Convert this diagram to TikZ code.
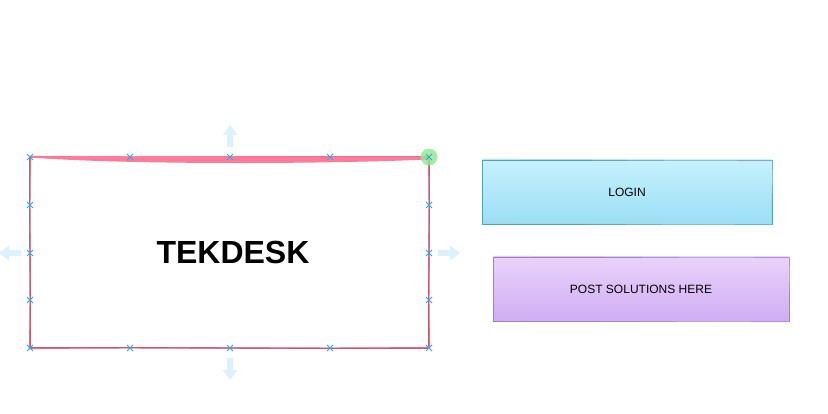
\documentclass[tikz,border=0pt]{standalone}
\usepackage{fontspec}
\setmainfont{Liberation Sans}

\definecolor{edgepink}{HTML}{C25A72}
\definecolor{bandpink}{HTML}{FF7B98}
\definecolor{handleblue}{HTML}{2FA9E6}
\definecolor{arrowblue}{HTML}{DDF1FB}
\definecolor{logintop}{HTML}{C6F1FD}
\definecolor{loginbot}{HTML}{9ADFF5}
\definecolor{loginedge}{HTML}{5A9EB4}
\definecolor{posttop}{HTML}{E9D3FA}
\definecolor{postbot}{HTML}{D0ACF4}
\definecolor{postedge}{HTML}{A27DC9}
\definecolor{selgreen}{HTML}{8FE88F}

\tikzset{
  mainbox/.style={draw=edgepink, line width=1.2pt, minimum width=399pt, minimum height=191pt,
    inner sep=0pt, font=\fontsize{32}{36}\selectfont\bfseries},
  btnbox/.style={line width=0.9pt, minimum height=64pt, inner sep=0pt, font=\fontsize{12}{14}\selectfont},
  handlemark/.style={draw=handleblue, line width=0.9pt},
  hintarrow/.style={fill=arrowblue},
}

\newcommand{\hintshape}{(-3,0) -- (-3,-12) -- (-7.5,-12) -- (0,-22) -- (7.5,-12) -- (3,-12) -- (3,0) -- cycle}

\begin{document}
\begin{tikzpicture}[x=1pt, y=-1pt]
		\fill[white] (0,0) rectangle (828,414);
		\useasboundingbox (0,0) rectangle (828,414);

		% main box
		\node[mainbox] (desk) at (229.5,252.5) {\raisebox{-1.5pt}{\hspace{7pt}TEKDESK}};
		\draw[edgepink!45, line width=0.6pt] (31,156) -- (428,158) -- (430,347) -- (29,349) -- cycle;
		\fill[bandpink] (30,156.5) -- (429,156.5) -- (427,159.5) .. controls (330,164) and (130,165) .. (30,157.5) -- cycle;

		% buttons
		\node[btnbox, draw=loginedge, top color=logintop, bottom color=loginbot, minimum width=290pt] (login) at (627,192) {LOGIN};
		\draw[loginedge!50, line width=0.5pt] (483,159) -- (773,161) -- (771,225) -- (481,223);
		\node[btnbox, draw=postedge, top color=posttop, bottom color=postbot, minimum width=296pt] (post) at (641,289) {POST SOLUTIONS HERE};
		\draw[postedge!50, line width=0.5pt] (494,256) -- (790,258) -- (788,322) -- (492,320);

		% selection
		\fill[selgreen, opacity=0.8] (429,157) circle (8.5);
		\foreach \x in {30,130,230,330,429}
			\foreach \y in {157,348}
				\draw[handlemark] (\x,\y) +(-3,-3) -- +(3,3) +(-3,3) -- +(3,-3);
		\foreach \y in {205,253,300}
			\foreach \x in {30,429}
				\draw[handlemark] (\x,\y) +(-3,-3) -- +(3,3) +(-3,3) -- +(3,-3);

		\fill[hintarrow, shift={(230,147)}] \hintshape;
		\fill[hintarrow, shift={(230,358)}, rotate=180] \hintshape;
		\fill[hintarrow, shift={(21,253)}, rotate=90] \hintshape;
		\fill[hintarrow, shift={(438,253)}, rotate=-90] \hintshape;
	\end{tikzpicture}
\end{document}
